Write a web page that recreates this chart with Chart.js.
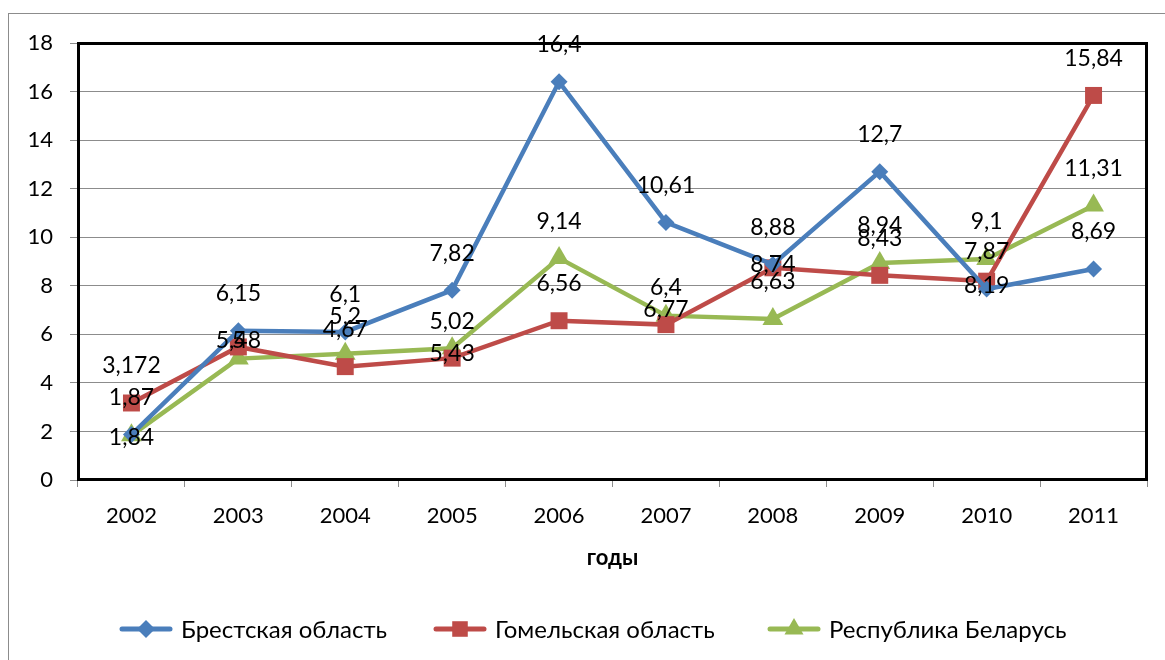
<!DOCTYPE html>
<html>
<head>
<meta charset="utf-8">
<script src="https://cdn.jsdelivr.net/npm/chart.js@4.4.1/dist/chart.umd.min.js"></script>
<style>
  html, body { margin: 0; padding: 0; background: #fff; }
  canvas { display: block; }
</style>
</head>
<body>
<canvas id="chart" width="1165" height="660"></canvas>
<script>
// chart data
const years = ["2002", "2003", "2004", "2005", "2006", "2007", "2008", "2009", "2010", "2011"];
const brest = [1.87, 6.15, 6.1, 7.82, 16.4, 10.61, 8.88, 12.7, 7.87, 8.69];
const gomel = [3.172, 5.48, 4.67, 5.02, 6.56, 6.4, 8.74, 8.43, 8.19, 15.84];
const belarus = [1.84, 5, 5.2, 5.43, 9.14, 6.77, 6.63, 8.94, 9.1, 11.31];
const seriesNames = ["Брестская область", "Гомельская область", "Республика Беларусь"];
const yTicks = [0, 2, 4, 6, 8, 10, 12, 14, 16, 18];

const FONT = "Lato, 'Open Sans', sans-serif";

function fmt(v) {
  return String(v).replace(".", ",");
}

// own marker drawing, so the legend can show line + marker like Excel
function drawMarker(ctx, style, x, y, r, color) {
  ctx.save();
  ctx.fillStyle = color;
  ctx.beginPath();
  if (style === "rectRot") {
    ctx.moveTo(x, y - r); ctx.lineTo(x + r, y); ctx.lineTo(x, y + r); ctx.lineTo(x - r, y);
  } else if (style === "rect") {
    const s = r * Math.SQRT1_2;
    ctx.rect(x - s, y - s, 2 * s, 2 * s);
  } else {
    ctx.moveTo(x, y - r);
    ctx.lineTo(x + r * 0.866, y + r * 0.5);
    ctx.lineTo(x - r * 0.866, y + r * 0.5);
  }
  ctx.closePath();
  ctx.fill();
  ctx.restore();
}

const frame = {
  id: "frame",
  beforeDraw(chart) {
    const { ctx } = chart;
    ctx.save();
    ctx.strokeStyle = "#8c8c8c";
    ctx.lineWidth = 1;
    ctx.strokeRect(8.5, 13.5, 1300, 800);
    ctx.restore();
  },
  afterDraw(chart) {
    const { ctx, chartArea: a } = chart;
    ctx.save();
    ctx.strokeStyle = "#000";
    ctx.lineWidth = 3;
    ctx.strokeRect(a.left + 0.5, a.top + 0.5, a.right - a.left - 1, a.bottom - a.top - 1);
    ctx.restore();
  }
};

const pointLabels = {
  id: "pointLabels",
  afterDatasetsDraw(chart, args, opts) {
    const { ctx } = chart;
    ctx.save();
    ctx.font = opts.font;
    ctx.fillStyle = "#000";
    ctx.textAlign = "center";
    ctx.textBaseline = "middle";
    chart.data.datasets.forEach((ds, di) => {
      const meta = chart.getDatasetMeta(di);
      const shifts = opts.shifts[di] || {};
      meta.data.forEach((pt, i) => {
        const dy = shifts[i] !== undefined ? shifts[i] : opts.dy;
        ctx.fillText(fmt(ds.data[i]), pt.x, pt.y + dy);
      });
    });
    ctx.restore();
  }
};

const lineLegend = {
  id: "lineLegend",
  afterDraw(chart, args, opts) {
    const { ctx } = chart;
    ctx.save();
    ctx.font = opts.font;
    ctx.textBaseline = "middle";
    ctx.textAlign = "left";
    chart.data.datasets.forEach((ds, di) => {
      const x = opts.starts[di];
      const y = opts.y;
      ctx.strokeStyle = ds.borderColor;
      ctx.lineWidth = 5;
      ctx.lineCap = "round";
      ctx.beginPath();
      ctx.moveTo(x, y);
      ctx.lineTo(x + opts.lineLen, y);
      ctx.stroke();
      drawMarker(ctx, ds.pointStyle, x + opts.lineLen / 2, y, opts.markerR[di], ds.borderColor);
      ctx.fillStyle = "#000";
      ctx.fillText(ds.label, x + opts.lineLen + 11, y + 1);
    });
    ctx.restore();
  }
};

function series(label, data, color, style, radius) {
  return {
    label,
    data,
    borderColor: color,
    backgroundColor: color,
    borderWidth: 4.5,
    pointStyle: style,
    pointRadius: radius,
    pointHoverRadius: radius,
    pointBorderWidth: 0,
    tension: 0
  };
}

new Chart(document.getElementById("chart"), {
  type: "line",
  data: {
    labels: years,
    datasets: [
      series(seriesNames[0], brest, "#4a7ebb", "rectRot", 8.5),
      series(seriesNames[1], gomel, "#be4b48", "rect", 12),
      series(seriesNames[2], belarus, "#98b954", "triangle", 12)
    ]
  },
  plugins: [frame, pointLabels, lineLegend],
  options: {
    responsive: false,
    animation: false,
    layout: { padding: { left: 0, top: 43, right: 18, bottom: 0 } },
    plugins: {
      legend: { display: false },
      tooltip: { enabled: false },
      pointLabels: {
        font: "23px " + FONT,
        dy: -37,
        shifts: {
          1: { 1: -6, 6: -3, 8: 4 },
          2: { 0: 2, 1: -18, 3: 5, 5: -6 }
        }
      },
      lineLegend: {
        font: "24px " + FONT,
        y: 629,
        lineLen: 48,
        starts: [122, 436, 770],
        markerR: [9, 11, 11]
      }
    },
    scales: {
      x: {
        offset: true,
        grid: {
          offset: true,
          drawOnChartArea: false,
          drawTicks: true,
          tickLength: 7,
          color: "#8c8c8c"
        },
        border: { color: "#8c8c8c", width: 1 },
        ticks: {
          color: "#000",
          font: { family: FONT, size: 22 },
          padding: 16,
          maxRotation: 0
        },
        title: {
          display: true,
          text: "годы",
          color: "#000",
          font: { family: FONT, size: 22, weight: "bold" },
          padding: { top: 0, bottom: 89 }
        },
        afterFit(scale) { scale.height = 180; }
      },
      y: {
        min: 0,
        max: 18,
        afterBuildTicks(scale) { scale.ticks = yTicks.map(v => ({ value: v })); },
        grid: {
          color: "#8c8c8c",
          lineWidth: 1,
          tickLength: 8
        },
        border: { color: "#8c8c8c", width: 1 },
        ticks: {
          color: "#000",
          font: { family: FONT, size: 22 },
          padding: 17
        },
        afterFit(scale) { scale.width = 78; }
      }
    }
  }
});
</script>
</body>
</html>
